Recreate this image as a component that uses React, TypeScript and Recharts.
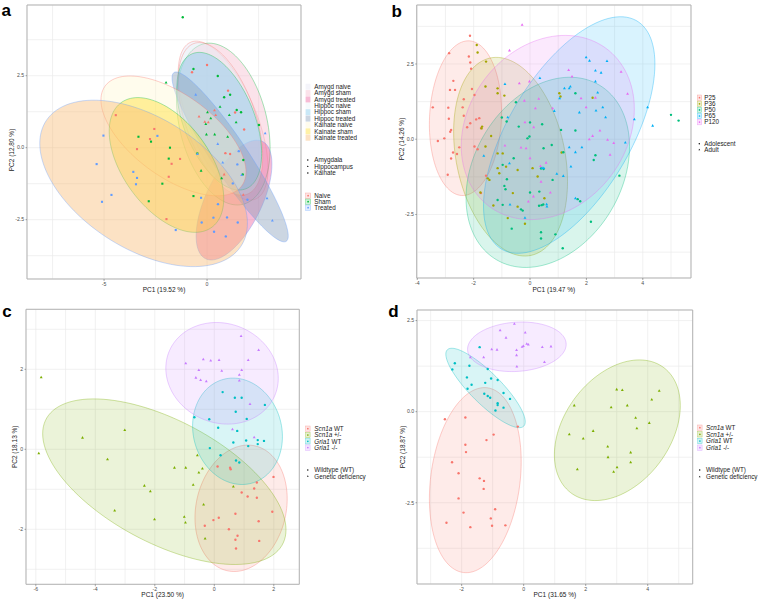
import React from 'react';
import { ScatterChart, Scatter, XAxis, YAxis, CartesianGrid, ReferenceArea } from 'recharts';

const FONT = '"Liberation Sans", Arial, Helvetica, sans-serif';
type Pt = [number, number];
// ellipse: centre x, centre y, half-range x, half-range y, correlation
type Ell = [number, number, number, number, number];

// ---------------- Panel a ----------------
const aGroups = ['Amygd naive', 'Amygd sham', 'Amygd treated', 'Hippoc naive', 'Hippoc sham', 'Hippoc treated', 'Kainate naive', 'Kainate sham', 'Kainate treated'];
const aRegions = ['Amygdala', 'Hippocampus', 'Kainate'];
const aTreatments = ['Naive', 'Sham', 'Treated'];
const aEllipses: Ell[] = [
  [0.78, 0.94, 2.18, 2.76, -0.6],
  [0.79, 0.82, 2.27, 2.81, -0.3],
  [1.31, -1.82, 1.84, 2.08, 0.6],
  [0.65, 1.0, 2.05, 2.65, -0.5],
  [0.59, 0.92, 2.06, 2.39, -0.47],
  [1.12, -0.32, 2.82, 2.95, -0.93],
  [-1.63, 0.41, 3.52, 2.08, -0.6],
  [-1.97, -0.6, 2.78, 2.34, -0.5],
  [-3.08, -1.24, 5.04, 2.89, -0.48],
];
const aEllipseTreatment = [0, 1, 2, 0, 1, 2, 0, 1, 2];
const aNaiveAmygdala: Pt[] = [[0, 2.87], [-0.73, 2.62], [1.02, 1.98], [1.36, 1.22], [1.8, 0.63], [0.89, -0.19], [1.12, -0.22]];
const aNaiveHippocampus: Pt[] = [[0.36, 1.3], [0.42, 1.13], [-0.39, 1.08], [-0.11, 0.9], [0.06, 0.88], [0.83, -0.93], [1.76, -1.64]];
const aNaiveKainate: Pt[] = [[-4.43, 1.13], [-2.56, 0.65], [-2.77, 0.3], [-3.4, -0.05], [-1.31, -0.39], [-1.72, -0.56], [-1.86, -1.01], [-1.97, -2.48]];
const aShamAmygdala: Pt[] = [[-1.18, 4.53], [-0.66, 2.73], [0.52, 2.49], [1.12, 1.84], [0.83, 1.75], [1.44, 1.31], [1.65, 1.23], [2.52, 0.79], [1.76, -0.43], [1.73, -0.93]];
const aShamHippocampus: Pt[] = [[-1.99, 2.26], [0.63, 1.42], [1.08, 1.13], [0.02, 1.23], [0.18, 1.02], [-0.06, 0.82], [1.41, 0.88], [0.37, 0.46], [1.0, 0.38], [-0.03, 0.46], [0.71, -1.06], [-0.29, -0.8]];
const aShamKainate: Pt[] = [[-3.33, 0.38], [-2.72, 0.21], [-1.8, 0.0], [-1.86, -0.38], [-0.47, -0.2], [-2.17, -1.25], [-0.66, -1.68], [-2.83, -1.86]];
const aTreatedAmygdala: Pt[] = [[1.54, -0.12], [1.47, -0.58], [1.25, -1.24], [1.96, -1.81], [0.53, -1.96], [0.31, -2.43], [0.97, -2.42], [1.49, -2.6], [0.34, -2.92], [0.91, -3.08], [-0.26, -2.6]];
const aTreatedHippocampus: Pt[] = [[-0.55, 1.84], [2.82, 0.5], [0.52, 0.13], [2.91, -1.76], [3.17, -2.53], [1.68, -0.95], [0.76, -0.52], [-0.47, -0.22]];
const aTreatedKainate: Pt[] = [[-2.41, 0.41], [-5.03, 0.42], [-5.36, -0.57], [-3.58, -0.84], [-3.4, -1.05], [-3.45, -1.27], [-4.64, -1.64], [-5.1, -1.88], [-0.29, -1.74], [-1.52, -2.86]];
const aXMajor = [-5, 0];
const aXMinor = [-7.5, -2.5, 2.5];
const aYMajor = [-2.5, 0, 2.5];
const aYMinor = [-3.75, -1.25, 1.25, 3.75];

// ---------------- Panel b ----------------
const bGroups = ['P25', 'P36', 'P50', 'P65', 'P120'];
const bAges = ['Adolescent', 'Adult'];
const bEllipses: Ell[] = [
  [-2.29, 0.7, 1.28, 2.57, 0.08],
  [-0.69, -0.58, 2.02, 3.3, -0.25],
  [0.63, -1.1, 2.9, 3.16, 0.27],
  [1.39, 0.14, 3.04, 3.93, 0.6],
  [0.63, 0.39, 3.07, 3.06, 0.2],
];
const bP25: Pt[] = [[-2.13, 3.44], [-2.87, 2.86], [-2.17, 2.75], [-2.12, 2.55], [-2.09, 2.34], [-2.72, 1.94], [-2.84, 1.64], [-2.66, 1.64], [-3.45, 1.06], [-2.9, 1.05], [-2.35, 1.33], [-2.06, 1.67], [-1.97, 1.47], [-2.39, 1.06], [-2.35, 0.78], [-2.88, 0.68], [-2.12, 0.53], [-2.23, 0.4], [-1.91, 0.66], [-1.8, 0.7], [-2.8, 0.31], [-2.83, 0.25], [-3.04, 0.03], [-3.27, -0.06], [-2.51, -0.27], [-2.73, -0.44], [-2.59, -0.49], [-2.8, -0.64], [-2.92, -1.18], [-1.97, -0.24], [-1.86, -0.33], [-1.56, -1.21], [-1.74, -1.79], [-1.74, 0.37]];
const bP36: Pt[] = [[-1.89, 3.13], [-1.86, 2.88], [-1.56, 2.58], [-1.58, 1.75], [-1.15, 1.69], [-0.91, 1.45], [-1.15, 1.53], [-1.7, 0.42], [-1.72, 0.36], [-1.38, 0.11], [-1.58, -0.24], [-1.15, -0.47], [-0.97, -0.47], [-1.44, -1.35], [-1.5, -1.3], [-1.76, -1.77], [-1.3, -2.2], [-0.79, -2.62], [-0.18, -2.81], [-0.44, -2.24], [-0.61, -1.79], [-1.09, -1.13], [-0.85, -0.91], [-0.44, -1.02], [0.09, -0.96], [0.27, -1.24], [0.51, -1.96], [1.04, 1.53], [1.08, 1.42], [2.22, 1.38], [1.12, -0.44], [-1.15, -0.96]];
const bP50: Pt[] = [[-0.5, 1.23], [-1.0, 0.72], [-0.83, 0.59], [-0.4, 0.42], [0.0, 0.56], [0.43, 0.5], [-0.09, 0.03], [-0.02, 0.09], [0.48, -0.3], [0.77, -0.19], [-0.58, -0.63], [-0.97, -0.85], [-0.82, -1.33], [-0.91, -1.55], [-0.87, -1.66], [-1.15, -2.02], [0.0, -1.77], [0.33, -1.74], [0.8, -1.35], [0.48, -0.99], [0.39, -0.97], [-0.32, -2.33], [-0.26, -2.37], [0.32, -2.21], [0.41, -2.19], [0.47, -2.17], [-0.97, -2.18], [-0.65, -2.97], [0.39, -3.09], [0.39, -3.3], [0.9, -3.16], [1.16, -3.62], [2.16, -2.74], [1.1, 0.31], [1.18, -0.43], [1.61, 1.53], [1.61, 0.29], [2.32, -0.53], [2.26, -0.69], [1.69, -1.99], [1.78, -2.06], [3.17, -1.21], [5.0, 0.81], [5.27, 0.62]];
const bP65: Pt[] = [[-0.89, 1.83], [0.35, 2.03], [-0.79, 0.73], [-1.64, -0.55], [-0.73, -0.8], [-0.71, -2.17], [-0.18, -2.61], [0.43, -0.96], [0.49, -0.96], [0.59, -2.16], [0.6, -2.24], [0.95, -1.15], [1.18, -1.22], [1.05, 1.36], [1.39, 1.69], [1.43, 1.75], [0.86, 0.94], [1.39, -0.27], [1.45, -0.91], [1.61, -0.43], [1.84, -0.27], [1.75, 0.89], [1.99, 2.72], [2.11, 2.61], [2.32, 2.28], [2.52, 2.21], [2.32, 1.92], [2.73, 2.6], [2.4, 1.55], [2.34, 0.95], [2.58, 1.06], [2.68, 0.73], [3.38, -0.11], [3.7, 0.66], [4.17, 1.06], [4.35, 0.45], [1.61, -1.96], [1.22, 1.69]];
const bP120: Pt[] = [[-0.28, 3.8], [-0.73, 2.95], [-0.38, 1.86], [-0.02, 1.92], [-0.2, 1.28], [0.31, 1.34], [0.19, 1.03], [0.8, 1.03], [-0.89, -0.21], [-0.32, -0.28], [-0.18, 0.56], [0.13, 0.4], [-0.14, -0.3], [0.0, -0.63], [0.37, -0.89], [0.57, -0.78], [0.39, -1.41], [0.72, -1.77], [-0.06, -2.07], [0.12, -1.9], [1.37, 2.3], [1.49, 2.08], [1.81, 1.36], [1.99, 1.06], [2.32, 1.38], [2.48, 0.29], [2.22, 0.11], [2.75, -0.02], [2.97, -0.13], [2.84, -0.52], [3.23, 2.24], [3.46, 1.51], [2.1, 0.0]];
const bXMajor = [-4, -2, 0, 2, 4];
const bXMinor = [-3, -1, 1, 3, 5];
const bYMajor = [-2.5, 0, 2.5];
const bYMinor = [-3.75, -1.25, 1.25, 3.75];

// ---------------- Panels c & d ----------------
const genes = ['Scn1a', 'Scn1a', 'Gria1', 'Gria1'];
const genotypes = ['WT', '+/-', 'WT', '-/-'];
const statusLabels = ['Wildtype (WT)', 'Genetic deficiency'];

const cEllipses: Ell[] = [
  [0.9, -1.475, 1.55, 1.58, 0.15],
  [-1.68, -0.81, 4.09, 2.07, -0.58],
  [0.78, 0.45, 1.51, 1.33, -0.1],
  [0.26, 1.9, 1.89, 1.27, -0.1],
];
const cScn1aWT: Pt[] = [[0.11, -0.43], [0.53, -0.46], [0.55, -0.5], [1.99, -0.69], [1.43, -0.83], [1.34, -0.98], [0.92, -1.08], [1.12, -1.18], [1.43, -1.21], [1.95, -1.56], [0.71, -1.61], [0.15, -1.71], [-0.03, -1.77], [-0.32, -1.91], [1.49, -1.8], [0.49, -2.0], [0.78, -2.16], [0.71, -2.26], [1.51, -2.29], [0.73, -2.48]];
const cScn1aHet: Pt[] = [[-5.82, 1.8], [-5.9, -0.1], [-4.43, 0.29], [-3.01, 0.48], [-3.59, -0.25], [-1.34, -0.46], [-0.96, -0.46], [-0.57, -0.15], [-0.52, -0.58], [-0.4, -0.48], [-0.71, -0.89], [-2.35, -0.91], [-2.15, -1.05], [0.64, -0.93], [-0.36, -1.38], [-3.35, -1.53], [-2.01, -1.75], [-1.01, -1.69], [-0.97, -1.83], [-0.31, -2.23]];
const cGria1WT: Pt[] = [[0.28, 1.43], [0.69, 1.29], [0.92, 1.29], [0.72, 0.94], [1.7, 1.11], [-0.67, 0.8], [-0.17, 0.75], [1.09, 0.76], [0.13, 0.54], [0.77, 0.46], [1.07, 0.22], [1.46, 0.23], [1.67, 0.21], [0.64, 0.17], [1.14, 0.08], [1.46, 0.13], [-0.15, 0.03], [0.21, -0.15], [0.73, -0.28], [0.84, -0.33]];
const cGria1KO: Pt[] = [[0.9, 2.83], [1.49, 2.48], [-0.96, 2.15], [-0.37, 2.25], [-0.12, 2.22], [0.16, 2.23], [1.14, 2.23], [-0.52, 1.98], [0.25, 1.96], [0.92, 1.98], [0.84, 1.86], [-0.62, 1.79], [-0.46, 1.73], [-0.27, 1.7], [0.84, 1.72], [1.2, 1.13], [0.61, 0.5], [1.34, 0.3]];
const cXMajor = [-6, -4, -2, 0, 2];
const cXMinor = [-5, -3, -1, 1];
const cYMajor = [-2, 0, 2];
const cYMinor = [-3, -1, 1, 3];

const dEllipses: Ell[] = [
  [-1.56, -1.88, 1.48, 2.54, 0.2],
  [3.02, -0.51, 2.03, 1.93, 0.35],
  [-1.23, 0.65, 1.28, 1.09, -0.85],
  [-0.22, 1.78, 1.59, 0.68, 0.1],
];
const dScn1aWT: Pt[] = [[-2.54, -0.21], [-1.88, -0.16], [-0.19, -0.41], [-0.97, -0.63], [-1.2, -0.78], [-1.88, -0.91], [-1.86, -1.11], [-2.31, -1.39], [-2.1, -1.69], [-1.42, -1.83], [-1.28, -1.9], [-1.29, -2.12], [-2.1, -2.38], [-0.92, -2.68], [-1.94, -2.77], [-1.06, -2.93], [-2.49, -3.05], [-1.72, -3.17], [-1.02, -3.13], [-0.59, -3.12]];
const dScn1aHet: Pt[] = [[3.0, 0.61], [3.18, 0.59], [4.37, 0.57], [4.13, 0.33], [1.63, 0.17], [2.82, 0.12], [3.34, 0.17], [3.61, -0.17], [3.65, -0.46], [4.05, -0.31], [1.47, -0.62], [1.92, -0.74], [2.24, -0.53], [2.71, -0.96], [2.72, -1.25], [3.45, -1.12], [3.45, -1.39], [1.73, -1.58], [3.01, -1.53], [2.9, -1.65]];
const dGria1WT: Pt[] = [[-1.42, 1.77], [-2.22, 1.33], [-2.3, 1.16], [-1.75, 1.26], [-1.16, 1.17], [-1.83, 0.94], [-1.05, 0.91], [-0.84, 0.87], [-1.68, 0.74], [-1.24, 0.79], [-1.81, 0.63], [-0.65, 0.51], [-1.27, 0.49], [-1.16, 0.43], [-1.08, 0.38], [-0.44, 0.35], [-0.84, 0.23], [-0.84, 0.18], [-0.65, 0.11], [-0.91, 0.03]];
const dGria1KO: Pt[] = [[-0.3, 2.41], [-0.76, 2.23], [0.05, 2.17], [-0.57, 2.03], [0.1, 1.86], [0.15, 1.84], [-0.01, 1.8], [-0.05, 1.78], [0.6, 1.77], [0.88, 1.79], [-1.03, 1.71], [-0.86, 1.7], [-0.23, 1.69], [-0.23, 1.55], [0.67, 1.36], [-1.72, 1.49], [-1.29, 1.49], [-0.22, 1.24]];
const dXMajor = [-2, 0, 2, 4];
const dXMinor = [-3, -1, 1, 3, 5];
const dYMajor = [-2.5, 0, 2.5];
const dYMinor = [-3.75, -1.25, 1.25];

// ---------------- styles ----------------
const hue3 = ['#F8766D', '#00BA38', '#619CFF'];
const hue4 = ['#F8766D', '#7CAE00', '#00BFC4', '#C77CFF'];
const hue5 = ['#F8766D', '#A3A500', '#00BF7D', '#00B0F6', '#E76BF3'];
const aFills = ['#E4E4F4', '#F6BACC', '#ED5D9B', '#E9F2F8', '#7EC7ED', '#859DBA', '#FFF8D3', '#FFDE2C', '#F8BA73'];

type Shape = 'circle' | 'triangle' | 'square';

const toXY = (pts: Pt[]) => pts.map(([x, y]) => ({ x, y }));

const outline = (e: Ell, n = 120) => {
  const [cx, cy, w, h, r] = e;
  const phi = Math.acos(r);
  const res: { x: number; y: number }[] = [];
  for (let i = 0; i <= n; i++) {
    const t = (2 * Math.PI * i) / n;
    res.push({ x: cx + w * Math.cos(t), y: cy + h * Math.cos(t - phi) });
  }
  return res;
};

const noShape = () => <g />;

const polyLine = (fill: string, stroke: string, fo: number, so: number) => (props: any) => {
  const pts = props.points || [];
  if (!pts.length) return <g />;
  const d = pts.map((p: any, i: number) => `${i ? 'L' : 'M'}${p.x},${p.y}`).join('') + 'Z';
  return <path d={d} fill={fill} fillOpacity={fo} stroke={stroke} strokeOpacity={so} strokeWidth={0.7} />;
};

const drawSymbol = (kind: Shape, cx: number, cy: number, color: string, s = 1) => {
  if (kind === 'circle') return <circle cx={cx} cy={cy} r={1.2 * s} fill={color} />;
  if (kind === 'triangle')
    return <path d={`M${cx},${cy - 1.6 * s}L${cx + 1.45 * s},${cy + 0.95 * s}L${cx - 1.45 * s},${cy + 0.95 * s}Z`} fill={color} />;
  return <rect x={cx - 1.05 * s} y={cy - 1.05 * s} width={2.1 * s} height={2.1 * s} fill={color} />;
};

const mkShape = (kind: Shape, color: string) => (p: any) => drawSymbol(kind, p.cx, p.cy, color);

type EllSpec = { e: Ell; fill: string; stroke: string; fo: number; so: number };
type SerSpec = { data: Pt[]; color: string; shape: Shape };

type PanelProps = {
  box: { left: number; top: number; width: number; height: number };
  plot: { l: number; r: number; t: number; b: number };
  xDomain: [number, number];
  yDomain: [number, number];
  xMajor: number[];
  xMinor: number[];
  yMajor: number[];
  yMinor: number[];
  xDigits: number;
  yDigits: number;
  ellipses: EllSpec[];
  series: SerSpec[];
  xTitle: string;
  yTitle: string;
  xGap: number;
  yOff: number;
  yShift: number;
};

const isIn = (v: number, arr: number[]) => arr.some((a) => Math.abs(a - v) < 1e-6);

const XTitle = (p: any) => {
  const vb = p.viewBox;
  return (
    <text x={vb.x + vb.width / 2} y={vb.y + p.gap} textAnchor="middle" fontSize={6.5} fontFamily={FONT} fill="#1a1a1a">
      {p.value}
    </text>
  );
};
const YTitle = (p: any) => {
  const vb = p.viewBox;
  const px = vb.x + vb.width - p.off;
  const cy = vb.y + vb.height / 2 + p.shift;
  return (
    <text x={px} y={cy} transform={`rotate(-90 ${px} ${cy})`} textAnchor="middle" fontSize={6.5} fontFamily={FONT} fill="#1a1a1a">
      {p.value}
    </text>
  );
};

function Panel(pp: PanelProps) {
  const YW = 20;
  const XH = 12;
  const { box, plot } = pp;
  const margin = { top: plot.t, left: plot.l - YW, right: box.width - plot.r, bottom: box.height - plot.b - XH };
  const xTicks = [...pp.xMajor, ...pp.xMinor].sort((a, b) => a - b);
  const yTicks = [...pp.yMajor, ...pp.yMinor].sort((a, b) => a - b);
  const xTick = (t: any) => {
    const v = t.payload.value;
    if (!isIn(v, pp.xMajor)) return <g />;
    return (
      <g>
        <line x1={t.x} x2={t.x} y1={t.y - 3.5} y2={t.y - 1.5} stroke="#555" strokeWidth={0.5} />
        <text x={t.x} y={t.y + 3.6} textAnchor="middle" fontSize={5.2} fontFamily={FONT} fill="#4d4d4d">
          {v.toFixed(pp.xDigits)}
        </text>
      </g>
    );
  };
  const yTick = (t: any) => {
    const v = t.payload.value;
    if (!isIn(v, pp.yMajor)) return <g />;
    return (
      <g>
        <line x1={t.x + 1} x2={t.x + 2.5} y1={t.y} y2={t.y} stroke="#555" strokeWidth={0.5} />
        <text x={t.x - 0.3} y={t.y + 1.8} textAnchor="end" fontSize={5.2} fontFamily={FONT} fill="#4d4d4d">
          {v.toFixed(pp.yDigits)}
        </text>
      </g>
    );
  };
  return (
    <div style={{ position: 'absolute', left: box.left, top: box.top }}>
      <ScatterChart width={box.width} height={box.height} margin={margin}>
        <CartesianGrid stroke="#ebebeb" strokeWidth={0.7} />
        <XAxis
          type="number"
          dataKey="x"
          domain={pp.xDomain}
          allowDataOverflow
          ticks={xTicks}
          interval={0}
          tick={xTick}
          tickLine={false}
          axisLine={false}
          tickSize={2}
          tickMargin={1.5}
          height={XH}
          label={{ value: pp.xTitle, content: XTitle, gap: pp.xGap } as any}
        />
        <YAxis
          type="number"
          dataKey="y"
          domain={pp.yDomain}
          allowDataOverflow
          ticks={yTicks}
          interval={0}
          tick={yTick}
          tickLine={false}
          axisLine={false}
          tickSize={1.5}
          tickMargin={1}
          width={YW}
          label={{ value: pp.yTitle, content: YTitle, off: pp.yOff, shift: pp.yShift } as any}
        />
        {pp.ellipses.map((el, i) => (
          <Scatter
            key={'e' + i}
            data={outline(el.e)}
            shape={noShape}
            line={polyLine(el.fill, el.stroke, el.fo, el.so) as any}
            lineType="joint"
            isAnimationActive={false}
            legendType="none"
          />
        ))}
        {pp.series.map((s, i) => (
          <Scatter key={'s' + i} data={toXY(s.data)} shape={mkShape(s.shape, s.color)} isAnimationActive={false} legendType="none" />
        ))}
        <ReferenceArea
          x1={pp.xDomain[0]}
          x2={pp.xDomain[1]}
          y1={pp.yDomain[0]}
          y2={pp.yDomain[1]}
          fill="none"
          stroke="#b3b3b3"
          strokeWidth={1}
          ifOverflow="visible"
        />
      </ScatterChart>
    </div>
  );
}

const LT = { fontSize: 6.3, fontFamily: FONT, fill: '#1a1a1a' } as const;

function ColorKey({ x, y, w, color, shape }: { x: number; y: number; w: number; color: string; shape: Shape }) {
  return (
    <g>
      <rect x={x} y={y - 2.7} width={w} height={5.4} fill={color} fillOpacity={0.18} stroke={color} strokeOpacity={0.55} strokeWidth={0.5} />
      {drawSymbol(shape, x + w / 2, y, color, 0.7)}
    </g>
  );
}

function Overlay() {
  const aStep = 6.375;
  return (
    <svg width={762} height={601} style={{ position: 'absolute', left: 0, top: 0, pointerEvents: 'none' }}>
      <g fontFamily={FONT} fontWeight="bold" fontSize={17} fill="#000">
        <text x={1.5} y={16.3}>a</text>
        <text x={391.5} y={16.7}>b</text>
        <text x={2.3} y={316.7}>c</text>
        <text x={388.3} y={316.7}>d</text>
      </g>
      {aGroups.map((g, i) => (
        <g key={g}>
          <rect x={305.6} y={86.7 + i * aStep - 3.0} width={4.8} height={6.0} fill={aFills[i]} fillOpacity={0.42} />
          <text x={314.3} y={86.7 + i * aStep + 2.2} {...LT}>{g}</text>
        </g>
      ))}
      {aRegions.map((g, i) => (
        <g key={g}>
          {drawSymbol((['circle', 'triangle', 'square'] as Shape[])[i], 307.8, 160 + i * 6.5, '#000', 0.6)}
          <text x={314.3} y={160 + i * 6.5 + 2.2} {...LT}>{g}</text>
        </g>
      ))}
      {aTreatments.map((g, i) => (
        <g key={g}>
          <ColorKey x={305.6} y={195.7 + i * 6} w={5} color={hue3[i]} shape="circle" />
          <text x={314.3} y={195.7 + i * 6 + 2.2} {...LT}>{g}</text>
        </g>
      ))}
      {bGroups.map((g, i) => (
        <g key={g}>
          <ColorKey x={697.3} y={97.7 + i * 6.1} w={4.4} color={hue5[i]} shape="circle" />
          <text x={704.3} y={97.7 + i * 6.1 + 2.2} {...LT}>{g}</text>
        </g>
      ))}
      {bAges.map((g, i) => (
        <g key={g}>
          {drawSymbol(i === 0 ? 'circle' : 'triangle', 699.3, 143.7 + i * 6, '#000', 0.6)}
          <text x={704.3} y={143.7 + i * 6 + 2.2} {...LT}>{g}</text>
        </g>
      ))}
      {genes.map((g, i) => (
        <g key={'c' + i}>
          <ColorKey x={305.6} y={428.7 + i * 6.3} w={4.5} color={hue4[i]} shape="circle" />
          <text x={314.3} y={428.7 + i * 6.3 + 2.2} {...LT}>
            <tspan fontStyle="italic">{g}</tspan> {genotypes[i]}
          </text>
        </g>
      ))}
      {statusLabels.map((g, i) => (
        <g key={'cs' + g}>
          {drawSymbol(i === 0 ? 'circle' : 'triangle', 307.8, 470 + i * 6.3, '#000', 0.6)}
          <text x={314.3} y={470 + i * 6.3 + 2.2} {...LT}>{g}</text>
        </g>
      ))}
      {genes.map((g, i) => (
        <g key={'d' + i}>
          <ColorKey x={697.7} y={427.7 + i * 6.65} w={4.4} color={hue4[i]} shape="circle" />
          <text x={706} y={427.7 + i * 6.65 + 2.2} {...LT}>
            <tspan fontStyle="italic">{g}</tspan> {genotypes[i]}
          </text>
        </g>
      ))}
      {statusLabels.map((g, i) => (
        <g key={'ds' + g}>
          {drawSymbol(i === 0 ? 'circle' : 'triangle', 699.7, 470 + i * 6.6, '#000', 0.6)}
          <text x={706} y={470 + i * 6.6 + 2.2} {...LT}>{g}</text>
        </g>
      ))}
    </svg>
  );
}

export default function App() {
  const aEll: EllSpec[] = aEllipses.map((e, i) => ({ e, fill: aFills[i], stroke: hue3[aEllipseTreatment[i]], fo: 0.42, so: 0.5 }));
  const aSer: SerSpec[] = [
    { data: aNaiveAmygdala, color: hue3[0], shape: 'circle' },
    { data: aNaiveHippocampus, color: hue3[0], shape: 'triangle' },
    { data: aNaiveKainate, color: hue3[0], shape: 'square' },
    { data: aShamAmygdala, color: hue3[1], shape: 'circle' },
    { data: aShamHippocampus, color: hue3[1], shape: 'triangle' },
    { data: aShamKainate, color: hue3[1], shape: 'square' },
    { data: aTreatedAmygdala, color: hue3[2], shape: 'circle' },
    { data: aTreatedHippocampus, color: hue3[2], shape: 'triangle' },
    { data: aTreatedKainate, color: hue3[2], shape: 'square' },
  ];
  const bEll: EllSpec[] = bEllipses.map((e, i) => ({ e, fill: hue5[i], stroke: hue5[i], fo: 0.15, so: 0.5 }));
  const bSer: SerSpec[] = [
    { data: bP25, color: hue5[0], shape: 'circle' },
    { data: bP36, color: hue5[1], shape: 'circle' },
    { data: bP50, color: hue5[2], shape: 'circle' },
    { data: bP65, color: hue5[3], shape: 'triangle' },
    { data: bP120, color: hue5[4], shape: 'triangle' },
  ];
  const cEll: EllSpec[] = cEllipses.map((e, i) => ({ e, fill: hue4[i], stroke: hue4[i], fo: 0.15, so: 0.5 }));
  const cSer: SerSpec[] = [
    { data: cScn1aWT, color: hue4[0], shape: 'circle' },
    { data: cScn1aHet, color: hue4[1], shape: 'triangle' },
    { data: cGria1WT, color: hue4[2], shape: 'circle' },
    { data: cGria1KO, color: hue4[3], shape: 'triangle' },
  ];
  const dEll: EllSpec[] = dEllipses.map((e, i) => ({ e, fill: hue4[i], stroke: hue4[i], fo: 0.15, so: 0.5 }));
  const dSer: SerSpec[] = [
    { data: dScn1aWT, color: hue4[0], shape: 'circle' },
    { data: dScn1aHet, color: hue4[1], shape: 'triangle' },
    { data: dGria1WT, color: hue4[2], shape: 'circle' },
    { data: dGria1KO, color: hue4[3], shape: 'triangle' },
  ];
  return (
    <div style={{ position: 'absolute', left: 0, top: 0, width: 762, height: 601, background: '#fff', overflow: 'hidden' }}>
      <Panel
        box={{ left: 0, top: 0, width: 306, height: 300 }}
        plot={{ l: 27, r: 301, t: 5, b: 279 }}
        xDomain={[-8.74, 4.56]}
        yDomain={[-4.56, 4.955]}
        xMajor={aXMajor}
        xMinor={aXMinor}
        yMajor={aYMajor}
        yMinor={aYMinor}
        xDigits={0}
        yDigits={1}
        ellipses={aEll}
        series={aSer}
        xTitle="PC1 (19.52 %)"
        yTitle="PC2 (12.80 %)"
        xGap={13.3}
        yOff={13}
        yShift={8}
      />
      <Panel
        box={{ left: 381, top: 0, width: 316, height: 300 }}
        plot={{ l: 35.7, r: 310, t: 5, b: 278 }}
        xDomain={[-4.02, 5.71]}
        yDomain={[-4.61, 4.46]}
        xMajor={bXMajor}
        xMinor={bXMinor}
        yMajor={bYMajor}
        yMinor={bYMinor}
        xDigits={0}
        yDigits={1}
        ellipses={bEll}
        series={bSer}
        xTitle="PC1 (19.47 %)"
        yTitle="PC2 (14.26 %)"
        xGap={14.3}
        yOff={12.4}
        yShift={-2.5}
      />
      <Panel
        box={{ left: 0, top: 300, width: 305, height: 301 }}
        plot={{ l: 26, r: 299.3, t: 9.3, b: 284.3 }}
        xDomain={[-6.33, 2.857]}
        yDomain={[-3.375, 3.5]}
        xMajor={cXMajor}
        xMinor={cXMinor}
        yMajor={cYMajor}
        yMinor={cYMinor}
        xDigits={0}
        yDigits={0}
        ellipses={cEll}
        series={cSer}
        xTitle="PC1 (23.50 %)"
        yTitle="PC2 (18.13 %)"
        xGap={12.7}
        yOff={8.7}
        yShift={0}
      />
      <Panel
        box={{ left: 381, top: 300, width: 317, height: 301 }}
        plot={{ l: 36, r: 311.7, t: 10, b: 284 }}
        xDomain={[-3.44, 5.45]}
        yDomain={[-4.73, 2.79]}
        xMajor={dXMajor}
        xMinor={dXMinor}
        yMajor={dYMajor}
        yMinor={dYMinor}
        xDigits={0}
        yDigits={1}
        ellipses={dEll}
        series={dSer}
        xTitle="PC1 (31.65 %)"
        yTitle="PC2 (18.87 %)"
        xGap={13.3}
        yOff={12}
        yShift={0}
      />
      <Overlay />
    </div>
  );
}
